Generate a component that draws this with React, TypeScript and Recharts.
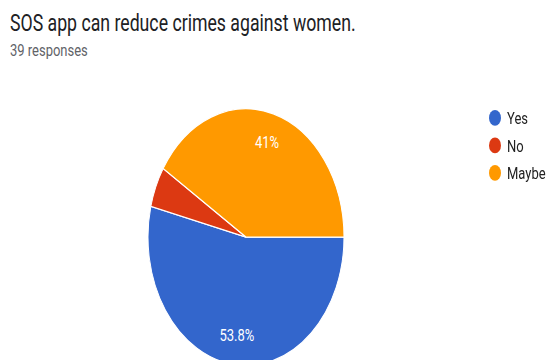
import React from 'react';
import { PieChart, Pie, Cell, Legend } from 'recharts';

const answers = ['Yes', 'No', 'Maybe'];
const responses = [21, 2, 16];
const sliceColors = ['#3366cc', '#dc3912', '#ff9900'];

const chartTitle = 'SOS app can reduce crimes against women.';
const chartSubtitle = '39 responses';

const data = answers.map((name, i) => ({ name, value: responses[i] }));

const RADIAN = Math.PI / 180;

// percentage labels sit inside the slice, small slices get none
const renderLabel = (props: any) => {
  const { cx, cy, midAngle, outerRadius, percent } = props;
  if (percent < 0.06) return null;
  const r = outerRadius * 0.77;
  const x = cx + r * Math.cos(-midAngle * RADIAN);
  const y = cy + r * Math.sin(-midAngle * RADIAN);
  const txt = parseFloat((percent * 100).toFixed(1)) + '%';
  return (
    <text x={x} y={y} fill="#ffffff" fontSize={13} textAnchor="middle" dominantBaseline="central" fontFamily="Roboto">
      {txt}
    </text>
  );
};

const renderLegend = () => (
  <div style={{ fontFamily: 'Roboto', fontSize: 13, color: '#222' }}>
    {data.map((d, i) => (
      <div key={d.name} style={{ display: 'flex', alignItems: 'center', height: 21 }}>
        <span style={{ width: 12, height: 12, borderRadius: '50%', background: sliceColors[i], display: 'inline-block' }} />
        <span style={{ marginLeft: 6 }}>{d.name}</span>
      </div>
    ))}
  </div>
);

export default function App() {
  return (
    <div style={{ position: 'absolute', left: 0, top: 0, width: 546, height: 275, transform: 'scaleY(1.31)', transformOrigin: 'top left', background: '#fff' }}>
      <svg width={546} height={275} style={{ position: 'absolute', left: 0, top: 0 }}>
        <text x={10} y={23.5} fontSize={17.7} fill="#202124" fontFamily="Roboto">{chartTitle}</text>
        <text x={10} y={42.5} fontSize={13} fill="#5f6368" fontFamily="Roboto">{chartSubtitle}</text>
      </svg>
      <div style={{ position: 'absolute', left: 0, top: 0 }}>
        <PieChart width={546} height={275} margin={{ top: 0, right: 0, bottom: 0, left: 0 }}>
          <Pie
            data={data}
            dataKey="value"
            nameKey="name"
            cx={246}
            cy={181}
            outerRadius={98}
            startAngle={0}
            endAngle={-360}
            stroke="#ffffff"
            strokeWidth={1}
            label={renderLabel}
            labelLine={false}
            isAnimationActive={false}
          >
            {data.map((d, i) => (
              <Cell key={d.name} fill={sliceColors[i]} />
            ))}
          </Pie>
          <Legend
            layout="vertical"
            align="right"
            verticalAlign="top"
            content={renderLegend}
            wrapperStyle={{ top: 79.5, left: 489, width: 60 }}
          />
        </PieChart>
      </div>
    </div>
  );
}
